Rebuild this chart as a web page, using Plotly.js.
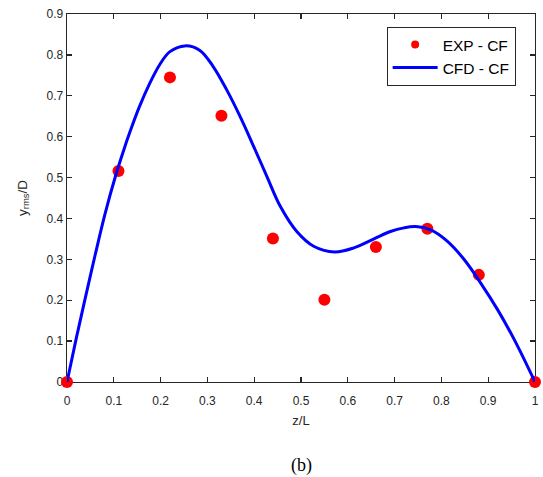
<!DOCTYPE html>
<html>
<head>
<meta charset="utf-8">
<script src="https://cdn.plot.ly/plotly-3.0.1.min.js"></script>
<style>html,body{margin:0;padding:0;background:#fff;}#chart{width:543px;height:477px;}</style>
</head>
<body>
<div id="chart"></div>
<script>
// Experimental points
const expX = [0, 0.11, 0.22, 0.33, 0.44, 0.55, 0.66, 0.77, 0.88, 1.0];
const expY = [0, 0.516, 0.745, 0.651, 0.351, 0.201, 0.330, 0.375, 0.262, 0];

// CFD curve
const cfdX = [0, 0.02, 0.04, 0.06, 0.081, 0.104, 0.122, 0.134, 0.155, 0.177, 0.198, 0.220, 0.252, 0.284, 0.312, 0.341, 0.370, 0.402, 0.427, 0.456, 0.491, 0.527, 0.572, 0.613, 0.656, 0.691, 0.720, 0.745, 0.777, 0.813, 0.849, 0.884, 0.920, 0.956, 1.0];
const cfdY = [0, 0.108, 0.21, 0.31, 0.41, 0.505, 0.57, 0.61, 0.674, 0.731, 0.776, 0.808, 0.822, 0.811, 0.772, 0.715, 0.649, 0.568, 0.503, 0.429, 0.368, 0.332, 0.318, 0.328, 0.350, 0.368, 0.377, 0.380, 0.372, 0.344, 0.299, 0.242, 0.177, 0.103, 0];

const seriesNames = ['EXP - CF', 'CFD - CF'];
const xTitle = 'z/L';
const yTitle = 'y<sub>rms</sub>/D';
const caption = '(b)';

const font = 'Liberation Sans, Arial, sans-serif';
const axisCol = '#262626';

const traces = [
  {x: expX, y: expY, name: seriesNames[0], type: 'scatter', mode: 'markers',
   marker: {color: '#ff0000', size: 12}, cliponaxis: false, showlegend: false, legendgroup: 'exp'},
  {x: cfdX, y: cfdY, name: seriesNames[1], type: 'scatter', mode: 'lines',
   line: {color: '#0000ff', width: 3, shape: 'spline', smoothing: 1}, cliponaxis: false, legendrank: 2},
  // legend-only entry so the legend dot is drawn small, as in the reference
  {x: [null], y: [null], name: seriesNames[0], type: 'scatter', mode: 'markers',
   marker: {color: '#ff0000', size: 8}, legendgroup: 'exp', legendrank: 1}
];

const axisCommon = {
  showgrid: false, zeroline: false, showline: true, linecolor: axisCol, linewidth: 1.3,
  mirror: 'ticks', ticks: 'inside', ticklen: 5, tickwidth: 1.3, tickcolor: axisCol,
  tickfont: {family: font, size: 12, color: axisCol}, layer: 'below traces', dtick: 0.1
};

const layout = {
  width: 543, height: 477,
  margin: {l: 67, r: 8, t: 14, b: 95},
  paper_bgcolor: '#fff', plot_bgcolor: '#fff',
  showlegend: true,
  xaxis: Object.assign({}, axisCommon, {range: [0, 1], tick0: 0, ticklabelstandoff: 7,
    title: {text: xTitle, font: {family: font, size: 13, color: axisCol}, standoff: 9}}),
  yaxis: Object.assign({}, axisCommon, {range: [0, 0.9], tick0: 0,
    title: {text: yTitle, font: {family: font, size: 13.5, color: axisCol}, standoff: 16}}),
  legend: {x: 0.683, y: 0.965, xanchor: 'left', yanchor: 'top', traceorder: 'normal',
    bordercolor: axisCol, borderwidth: 1, bgcolor: '#fff',
    font: {family: font, size: 15.5, color: '#000'}, itemwidth: 45, tracegroupgap: 0},
  annotations: [{text: caption, xref: 'paper', yref: 'paper', x: 0.5, y: -0.227,
    xanchor: 'center', yanchor: 'middle', showarrow: false,
    font: {family: 'Liberation Serif, Times New Roman, serif', size: 18, color: '#000'}}]
};

Plotly.newPlot('chart', traces, layout, {displayModeBar: false, staticPlot: true});
</script>
</body>
</html>
